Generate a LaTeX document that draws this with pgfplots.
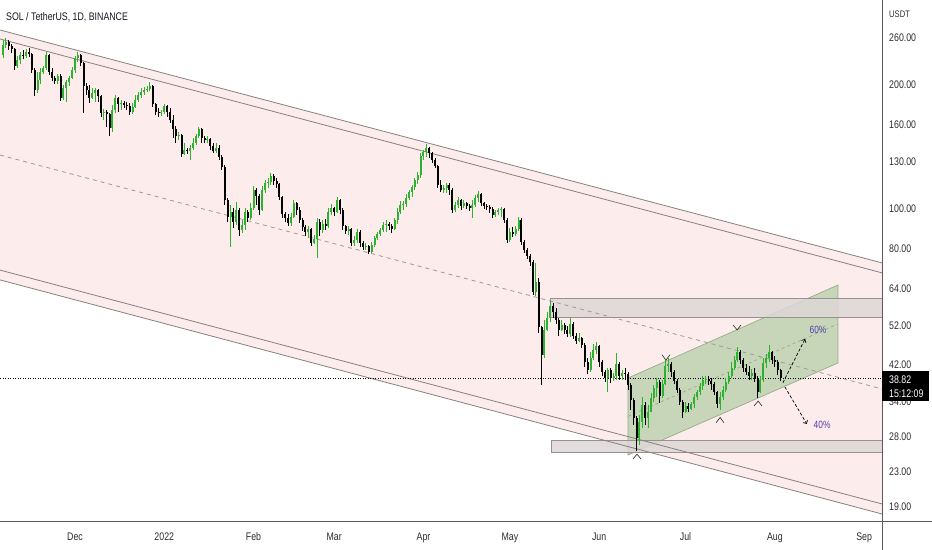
\documentclass[border=0pt]{standalone}
\usepackage{pgfplots}
\pgfplotsset{compat=1.18}
\usepackage{pgfplotstable}
\usepackage{fontspec}
\setmainfont{Liberation Sans}[FakeStretch=0.8]
\usetikzlibrary{arrows.meta}

\definecolor{upc}{RGB}{46,178,46}
\definecolor{dnc}{RGB}{0,0,0}
\definecolor{chfill}{RGB}{253,236,236}
\definecolor{chline}{RGB}{135,128,128}
\definecolor{midline}{RGB}{160,152,152}
\definecolor{grfill}{RGB}{199,214,185}
\definecolor{grline}{RGB}{150,172,138}
\definecolor{zone}{RGB}{222,214,214}
\definecolor{zoneline}{RGB}{150,146,146}
\definecolor{tvtext}{RGB}{19,23,34}
\definecolor{axtext}{RGB}{45,45,45}
\definecolor{purp}{RGB}{88,60,170}

% SOL/USDT daily candles, d = days since 1 Dec 2021
\pgfplotstableread{
d o h l c
-25 236 257 232 250
-24 250 260 246 254
-23 254 257 243 249
-22 249 251 239 244
-21 244 246 217 222
-20 222 235 220 230
-19 230 240 225 236
-18 236 243 231 235
-17 235 244 232 240
-16 240 246 234 238
-15 238 239 214 217
-14 217 220 188 194
-13 194 215 191 206
-12 206 220 201 215
-11 215 222 213 220
-10 220 240 217 236
-9 236 238 211 215
-8 215 220 204 208
-7 208 210 201 204
-6 204 213 201 210
-5 210 213 183 186
-4 186 200 184 197
-3 197 206 182 203
-2 203 210 199 208
-1 208 221 207 217
0 217 235 214 232
1 232 240 227 236
2 236 238 222 226
3 226 227 171 199
4 199 202 189 194
5 194 200 181 186
6 186 197 185 191
7 191 197 182 194
8 194 195 182 188
9 188 189 167 171
10 171 175 164 172
11 172 174 158 170
12 170 171 150 157
13 157 179 154 174
14 174 189 171 186
15 186 187 172 180
16 180 184 174 181
17 181 183 176 179
18 179 182 174 178
19 178 181 169 172
20 172 181 170 177
21 177 189 176 184
22 184 192 182 189
23 189 197 186 192
24 192 198 189 194
25 194 199 192 196
26 196 203 193 199
27 199 200 177 180
28 180 181 169 172
29 172 176 167 171
30 171 174 168 172
31 172 180 170 178
32 178 179 167 172
33 172 176 162 164
34 164 169 149 156
35 156 159 145 150
36 150 154 147 151
37 151 152 134 136
38 136 145 135 139
39 139 141 136 138
40 138 143 131.5 141
41 141 149 139 145
42 145 152 143 150
43 150 158 149 156
44 156 157 145 149
45 149 150 144.5 147
46 147 150 144.5 148
47 148 149 139 142
48 142 144.5 137 138
49 138 144.5 136.5 141
50 141 143 131.5 134
51 134 135 124.4 126.5
52 126.5 127.9 102.3 105.2
53 105.2 106.4 93.1 95.6
54 95.6 102.3 80.9 98.4
55 98.4 100.6 90.0 93.1
56 93.1 104.0 91.5 99.5
57 99.5 100.5 86.0 89.0
58 89.0 94.1 87.5 91.5
59 91.5 100.6 89.0 98.4
60 98.4 99.5 93.1 95.1
61 95.1 103.4 94.1 100.6
62 100.6 113.8 99.5 111.2
63 111.2 112.5 102.3 107.6
64 107.6 108.8 96.7 99.5
65 99.5 113.8 99.0 111.2
66 111.2 117.6 109.3 115.6
67 115.6 118.9 112.5 116.3
68 116.3 122.2 114.4 120.2
69 120.2 121.5 114.4 116.9
70 116.9 118.9 112.5 115.0
71 115.0 115.6 105.2 107.0
72 107.0 107.6 95.1 97.2
73 97.2 98.4 93.1 95.1
74 95.1 97.2 91.0 92.5
75 92.5 97.8 91.0 95.6
76 95.6 105.2 95.1 103.4
77 103.4 104.0 96.7 99.5
78 99.5 101.2 92.5 94.1
79 94.1 95.1 88.5 90.5
80 90.5 91.5 86.0 88.0
81 88.0 91.0 85.1 89.5
82 89.5 90.0 81.3 82.7
83 82.7 86.5 82.3 84.6
84 84.6 95.1 76.1 93.1
85 93.1 94.5 86.0 89.0
86 89.0 94.1 87.5 92.0
87 92.0 94.6 89.0 91.0
88 91.0 100.6 90.0 98.4
89 98.4 102.9 96.7 100.6
90 100.6 101.2 96.2 98.4
91 98.4 107.0 97.8 105.2
92 105.2 106.0 97.2 99.5
93 99.5 100.6 89.0 91.0
94 91.0 91.5 87.0 88.5
95 88.5 91.0 86.5 89.5
96 89.5 90.0 81.3 82.7
97 82.7 86.0 81.3 84.1
98 84.1 89.5 82.7 88.0
99 88.0 89.0 80.9 82.7
100 82.7 83.6 79.6 80.9
101 80.9 82.7 79.6 81.3
102 81.3 81.8 77.8 78.7
103 78.7 83.2 78.3 81.8
104 81.8 86.0 80.9 85.1
105 85.1 88.0 84.1 87.0
106 87.0 90.0 86.0 89.0
107 89.0 93.1 88.0 91.5
108 91.5 94.1 88.0 92.0
109 92.0 93.1 89.0 91.0
110 91.0 92.0 87.5 89.5
111 89.5 95.1 89.0 94.1
112 94.1 100.6 92.0 98.4
113 98.4 104.6 97.2 102.3
114 102.3 104.6 99.5 102.9
115 102.9 108.8 101.2 106.4
116 106.4 111.2 105.2 110.0
117 110.0 114.4 107.0 113.1
118 113.1 118.9 111.2 117.6
119 117.6 123.0 115.0 120.9
120 120.9 136.8 118.9 134.4
121 134.4 139.1 131.5 137.6
122 137.6 143.7 133.7 140.6
123 140.6 141.5 132.9 136.8
124 136.8 137.6 129.3 131.5
125 131.5 132.9 125.8 127.2
126 127.2 127.9 112.5 114.4
127 114.4 117.6 110.0 111.2
128 111.2 114.4 109.3 112.5
129 112.5 115.6 109.3 114.4
130 114.4 115.6 108.2 111.2
131 111.2 112.5 97.8 99.5
132 99.5 104.0 98.4 102.3
133 102.3 107.0 100.6 105.2
134 105.2 106.0 99.5 101.7
135 101.7 105.2 100.6 103.4
136 103.4 104.0 100.1 101.7
137 101.7 102.9 98.9 100.6
138 100.6 105.2 95.1 102.3
139 102.3 108.2 101.2 106.4
140 106.4 110.6 104.0 108.8
141 108.8 109.3 101.7 103.4
142 103.4 104.0 100.1 101.7
143 101.7 102.9 99.5 101.2
144 101.2 102.3 97.8 100.1
145 100.1 101.2 95.1 96.7
146 96.7 99.5 95.6 98.4
147 98.4 100.6 96.7 99.5
148 99.5 101.2 95.6 100.1
149 100.1 100.6 92.5 94.1
150 94.1 95.1 82.7 84.1
151 84.1 90.0 83.2 88.0
152 88.0 90.5 85.5 87.0
153 87.0 91.0 86.0 89.5
154 89.5 95.6 88.5 94.1
155 94.1 95.1 81.8 83.2
156 83.2 84.1 78.3 79.6
157 79.6 80.5 75.6 77.0
158 77.0 77.8 72.8 74.4
159 74.4 75.2 61.9 62.9
160 62.9 74.0 61.6 66.6
161 66.6 68.0 50.0 51.7
162 51.7 52.0 37.4 44.3
163 44.3 53.8 43.5 50.9
164 50.9 56.3 50.5 54.4
165 54.4 59.9 53.2 58.2
166 58.2 59.1 54.4 56.3
167 56.3 57.5 52.6 53.8
168 53.8 54.4 49.2 50.9
169 50.9 53.8 50.5 52.3
170 52.3 52.9 49.8 50.9
171 50.9 52.0 49.0 49.8
172 49.8 54.4 49.0 52.6
173 52.6 53.2 48.4 49.2
174 49.2 50.0 47.1 47.8
175 47.8 50.0 47.6 48.6
176 48.6 49.0 46.0 46.8
177 46.8 47.2 41.4 42.5
178 42.5 43.5 39.8 40.7
179 40.7 45.0 40.3 43.5
180 43.5 47.1 43.0 45.5
181 45.5 47.6 44.5 46.5
182 46.5 46.8 41.4 42.5
183 42.5 43.0 39.4 40.3
184 40.3 40.7 38.1 38.9
185 38.9 41.2 36.0 40.7
186 40.7 41.2 37.9 38.9
187 38.9 40.0 38.3 39.4
188 39.4 44.8 38.5 42.1
189 42.1 42.5 38.5 39.4
190 39.4 40.7 38.5 40.0
191 40.0 41.2 38.5 39.8
192 39.8 40.3 36.4 37.4
193 37.4 37.8 32.6 34.4
194 34.4 34.8 29.9 31.1
195 31.1 31.5 25.9 27.8
196 27.8 31.7 26.8 30.5
197 30.5 35.0 29.4 33.5
198 33.5 34.0 29.9 31.1
199 31.1 33.5 29.4 32.2
200 32.2 35.8 32.1 34.8
201 34.8 37.4 34.0 36.8
202 36.8 38.9 35.0 38.1
203 38.1 38.5 33.8 35.2
204 35.2 38.5 34.8 37.6
205 37.6 43.0 37.4 41.7
206 41.7 43.5 40.3 42.1
207 42.1 42.5 39.2 40.3
208 40.3 40.7 37.6 38.3
209 38.3 38.7 35.8 36.4
210 36.4 36.8 33.5 34.0
211 34.0 34.4 31.1 32.2
212 32.2 34.0 32.0 33.3
213 33.3 33.8 32.1 32.8
214 32.8 34.0 32.6 33.6
215 33.6 35.6 32.9 35.0
216 35.0 36.4 34.4 36.0
217 36.0 37.9 35.4 37.2
218 37.2 39.4 36.4 38.5
219 38.5 39.4 37.6 38.7
220 38.7 39.4 37.4 38.3
221 38.3 38.9 36.4 37.6
222 37.6 38.1 35.4 36.0
223 36.0 36.2 32.9 33.6
224 33.6 36.0 32.6 35.0
225 35.0 37.2 34.4 36.4
226 36.4 38.9 36.0 38.1
227 38.1 40.3 37.6 39.4
228 39.4 42.5 38.9 41.2
229 41.2 44.0 40.7 43.0
230 43.0 46.3 42.5 45.0
231 45.0 45.5 42.1 43.0
232 43.0 43.5 40.3 41.2
233 41.2 42.1 39.6 40.3
234 40.3 41.7 38.5 39.4
235 39.4 40.9 38.5 40.0
236 40.0 41.2 38.1 38.9
237 38.9 39.4 34.8 36.0
238 36.0 39.4 35.8 38.5
239 38.5 43.5 38.1 42.3
240 42.3 44.5 41.2 43.5
241 43.5 46.8 42.5 45.0
242 45.0 45.3 42.1 43.0
243 43.0 44.0 41.4 42.5
244 42.5 43.0 39.6 40.7
245 40.7 40.9 38.3 38.82
}\sol

\begin{document}
\begin{tikzpicture}[x=1bp,y=1bp]
\fill[white] (0,0) rectangle (932,-550);
\path[use as bounding box] (0,0) rectangle (932,-550);
\begin{axis}[
  at={(0,0)}, anchor=north west, scale only axis,
  width=882bp, height=521bp,
  xmin=-26.04, xmax=280.21,
  ymode=log, ymin=17.5, ymax=321.5,
  axis line style={draw=none},
  major tick length=0pt,
  xtick={0,31,62,90,121,151,182,212,243,274},
  xticklabels={Dec,2022,Feb,Mar,Apr,May,Jun,Jul,Aug,Sep},
  ytick={19,23,28,34,42,52,64,80,100,130,160,200,260},
  yticklabels={19.00,23.00,28.00,34.00,42.00,52.00,64.00,80.00,100.00,130.00,160.00,200.00,260.00},
  yticklabel pos=right,
  tick label style={font=\fontsize{11bp}{13bp}\selectfont, text=axtext},
  yticklabel style={anchor=west, inner sep=0pt, xshift=7bp},
  xticklabel style={anchor=base, inner sep=0pt, yshift=-19bp},
  candle/.style={draw=none, mark=none, forget plot},
]
% falling channel
\addplot[draw=none, fill=chfill, forget plot] coordinates {(-26.04,271.9) (280.21,74.0) (280.21,18.2) (-26.04,67.3)} -- cycle;
% rising channel
\addplot[fill=grfill, draw=grline, line width=0.7bp, forget plot] coordinates {(192.0,38.9) (264.9,65.4) (264.9,42.3) (192.0,25.3)} -- cycle;
% zones
\addplot[fill=zone, fill opacity=0.85, draw=zoneline, line width=0.6bp, forget plot] coordinates {(164.9,54.7) (283,54.7) (283,60.8) (164.9,60.8)} -- cycle;
\addplot[fill=zone, fill opacity=0.85, draw=zoneline, line width=0.6bp, forget plot] coordinates {(165.3,25.7) (283,25.7) (283,27.5) (165.3,27.5)} -- cycle;
% channel lines
\addplot[chline, line width=0.8bp] coordinates {(-26.04,271.9) (280.21,74.0)};
\addplot[chline, line width=0.8bp] coordinates {(-26.04,258.6) (280.21,70.0)};
\addplot[chline, line width=0.8bp] coordinates {(-26.04,71.1) (280.21,19.25)};
\addplot[chline, line width=0.8bp] coordinates {(-26.04,67.3) (280.21,18.2)};
\addplot[midline, line width=0.8bp, dash pattern=on 4bp off 4bp] coordinates {(-26.04,135.2) (280.21,36.6)};
\addplot[grline, line width=0.7bp, dash pattern=on 3bp off 3bp] coordinates {(192.0,31.4) (264.9,52.6)};
% last price
\addplot[black, line width=0.6bp, dash pattern=on 1bp off 1.5bp] coordinates {(-26.04,38.82) (280.21,38.82)};

% candles: wicks then bodies
\addplot[candle,
  restrict expr to domain={\thisrow{c}-\thisrow{o}}{0:1000},
  error bars/.cd, y dir=plus, y explicit, error mark=none,
  error bar style={draw=upc, line width=0.8bp}]
  table[x=d, y=l, y error expr=\thisrow{h}-\thisrow{l}] {\sol};
\addplot[candle,
  restrict expr to domain={\thisrow{o}-\thisrow{c}}{0.0001:1000},
  error bars/.cd, y dir=plus, y explicit, error mark=none,
  error bar style={draw=dnc, line width=0.8bp}]
  table[x=d, y=l, y error expr=\thisrow{h}-\thisrow{l}] {\sol};
\addplot[candle,
  restrict expr to domain={\thisrow{c}-\thisrow{o}}{0:1000},
  error bars/.cd, y dir=plus, y explicit, error mark=none,
  error bar style={draw=upc, line width=2bp}]
  table[x=d, y=o, y error expr=\thisrow{c}-\thisrow{o}] {\sol};
\addplot[candle,
  restrict expr to domain={\thisrow{o}-\thisrow{c}}{0.0001:1000},
  error bars/.cd, y dir=plus, y explicit, error mark=none,
  error bar style={draw=dnc, line width=2bp}]
  table[x=d, y=c, y error expr=\thisrow{o}-\thisrow{c}] {\sol};

% pivots
\addplot[black!85, line width=0.6bp] coordinates {(193.75,24.74) (195.14,25.42) (196.53,24.74)};
\addplot[black!85, line width=0.6bp] coordinates {(203.8,44.3) (205.2,43.0) (206.6,44.3)};
\addplot[black!85, line width=0.6bp] coordinates {(222.6,30.3) (224.0,31.2) (225.3,30.3)};
\addplot[black!85, line width=0.6bp] coordinates {(228.5,52.3) (229.9,50.9) (231.25,52.3)};
\addplot[black!85, line width=0.6bp] coordinates {(235.8,33.3) (237.2,34.2) (238.5,33.3)};

% scenarios
\addplot[black, line width=0.7bp, dash pattern=on 3bp off 2bp, -{Straight Barb[length=2.5bp,width=5bp]}] coordinates {(245.8,37.9) (253.5,48.4)};
\addplot[black, line width=0.7bp, dash pattern=on 3bp off 2bp, -{Straight Barb[length=2.5bp,width=5bp]}] coordinates {(246.5,37.0) (254.1,30.1)};
\node[text=purp, font=\fontsize{10.5bp}{12bp}\selectfont, inner sep=0pt] at (axis cs:258.0,50.9) {60\%};
\node[text=purp, font=\fontsize{10.5bp}{12bp}\selectfont, inner sep=0pt] at (axis cs:259.4,29.9) {40\%};
\end{axis}

\draw[color={rgb,255:red,90;green,90;blue,90}, line width=0.8bp] (882,0) -- (882,-550);
\draw[color={rgb,255:red,90;green,90;blue,90}, line width=0.8bp] (0,-521) -- (932,-521);
\node[anchor=west, inner sep=0pt, text=tvtext, font=\fontsize{11bp}{13bp}\selectfont] at (6,-17) {SOL / TetherUS, 1D, BINANCE};
\node[anchor=west, inner sep=0pt, text=axtext, font=\fontsize{9.5bp}{11bp}\selectfont] at (889,-14) {USDT};
\fill[black] (882,-371) rectangle (929,-401);
\node[anchor=west, inner sep=0pt, text=white, font=\fontsize{11bp}{13bp}\selectfont] at (889,-380) {38.82};
\node[anchor=west, inner sep=0pt, text=white, font=\fontsize{11bp}{13bp}\selectfont] at (889,-394) {15:12:09};
\end{tikzpicture}
\end{document}
